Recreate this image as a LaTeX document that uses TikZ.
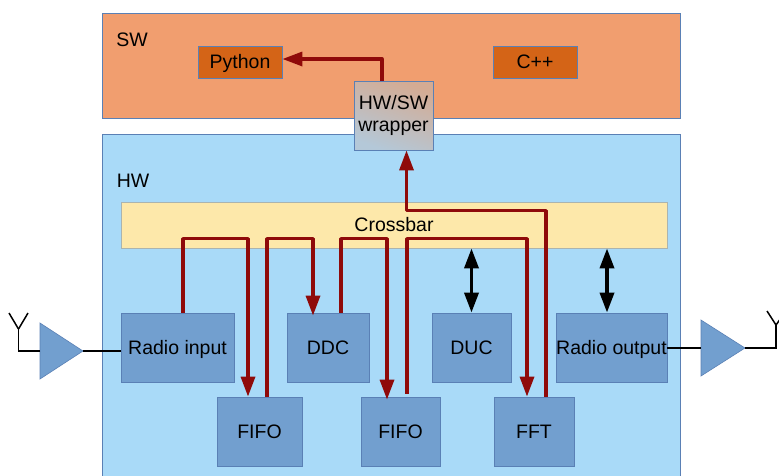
\documentclass[tikz,border=0pt]{standalone}
\usepackage{fontspec}
\setmainfont{Liberation Sans}
\usetikzlibrary{arrows.meta}
\definecolor{swfill}{HTML}{F19E6F}
\definecolor{hwfill}{HTML}{A9DAF8}
\definecolor{barfill}{HTML}{FDE8AA}
\definecolor{blockfill}{HTML}{729FCF}
\definecolor{langfill}{HTML}{D46417}
\definecolor{edgeblue}{HTML}{5A80B5}
\definecolor{flowred}{HTML}{8F0A0A}
\definecolor{wraptop}{HTML}{D4AB93}
\definecolor{wrapbottom}{HTML}{B4C8D8}
\tikzset{
	block/.style={draw=edgeblue, line width=0.8pt, fill=blockfill, inner sep=0pt, minimum width=80, minimum height=69, text height=13, text depth=0, font=\fontsize{19.5}{22}\selectfont},
	lang/.style={block, fill=langfill, minimum width=84, minimum height=32},
	tag/.style={inner sep=0pt, text height=13, text depth=0, font=\fontsize{19.5}{22}\selectfont},
	amp/.style={draw=edgeblue, line width=0.6pt, fill=blockfill},
	flow/.style={draw=flowred, line width=3.3pt, line join=round, -{Triangle[width=14pt,length=20pt]}},
	duplex/.style={draw=black, line width=3.6pt, {Triangle[width=14pt,length=20pt]}-{Triangle[width=14pt,length=20pt]}},
	wire/.style={draw=black, line width=1.5pt}
}
\begin{document}
\begin{tikzpicture}[x=1pt,y=-1pt]
		%%%%% START %%%%%
		\useasboundingbox (0, 0) rectangle (779, 475);

		\draw[draw=edgeblue, line width=0.8pt, fill=swfill] (102, 13) rectangle (680, 118);
		\draw[draw=edgeblue, line width=0.8pt, fill=hwfill] (102, 134) rectangle (680, 490);
		\node[tag] (swlabel) at (132, 40) {SW};
		\node[tag] (hwlabel) at (133, 181) {HW};

		\node[block, draw=edgeblue!50!barfill, fill=barfill, minimum width=546, minimum height=46] (crossbar) at (394, 225) {Crossbar};

		\node[lang] (python) at (240, 62) {Python};
		\node[lang] (cpp) at (535, 62) {C++};
		\node[block, text height=, text depth=, top color=wraptop, bottom color=wrapbottom, shading angle=-20, minimum width=79, align=center] (wrapper) at (393.5, 115.5) {HW/SW\\wrapper};

		\node[block, minimum width=113] (radioin) at (177.5, 347.5) {Radio input};
		\node[block, minimum width=82] (ddc) at (328, 347.5) {DDC};
		\node[block, minimum width=79] (duc) at (471.5, 347.5) {DUC};
		\node[block, minimum width=111] (radioout) at (611.5, 347.5) {Radio output};
		\node[block, minimum width=85] (fifoa) at (259.5, 431.5) {FIFO};
		\node[block, minimum width=79] (fifob) at (400.5, 431.5) {FIFO};
		\node[block] (fft) at (534, 431.5) {FFT};

		\draw[amp] (40, 323) -- (83, 351) -- (40, 379) -- cycle;
		\draw[amp] (701, 320) -- (745, 348) -- (701, 376) -- cycle;
		\coordinate (ampintip) at (83, 351);
		\coordinate (ampinback) at (40, 351);
		\coordinate (ampouttip) at (745, 348);
		\coordinate (ampoutback) at (701, 348);

		\coordinate (antin) at (18.5, 329);
		\coordinate (antout) at (776, 325);
		\draw[wire] (ampinback) -| (antin);
		\draw[wire] (antin) -- ++(-9.5, -16);
		\draw[wire] (antin) -- ++(9.5, -16);
		\draw[wire] (ampouttip) -| (antout);
		\draw[wire] (antout) -- ++(-9, -14);
		\draw[wire] (antout) -- ++(10, -14);
		\draw[wire] (ampintip) -- (ampintip -| radioin.west);
		\draw[wire] (radioout.east |- ampoutback) -- (ampoutback);

		\draw[flow] ([xshift=5.5]radioin.north) -- ++(0, -74) -| ([xshift=-11.5]fifoa.north);
		\draw[flow] ([xshift=7.5]fifoa.north) -- ++(0, -158) -| ([xshift=-15, yshift=-3]ddc.north);
		\draw[flow] ([xshift=13]ddc.north) -- ++(0, -74) -| ([xshift=-13.5, yshift=-3]fifob.north);
		\draw[flow] ([xshift=6.5, yshift=3]fifob.north) -- ++(0, -155) -| ([xshift=-7]fft.north);
		\draw[flow] ([xshift=12]fft.north) -- ++(0, -186) -| ([xshift=13]wrapper.south);
		\draw[flow] ([xshift=-11.5]wrapper.north) |- ([yshift=3]python.east);

		\coordinate (linkout) at ([xshift=-4.5]radioout.north);
		\draw[duplex] (duc.north |- crossbar.south) -- (duc.north);
		\draw[duplex] (linkout |- crossbar.south) -- (linkout);
		%%%%% END %%%%%
	\end{tikzpicture}
\end{document}
